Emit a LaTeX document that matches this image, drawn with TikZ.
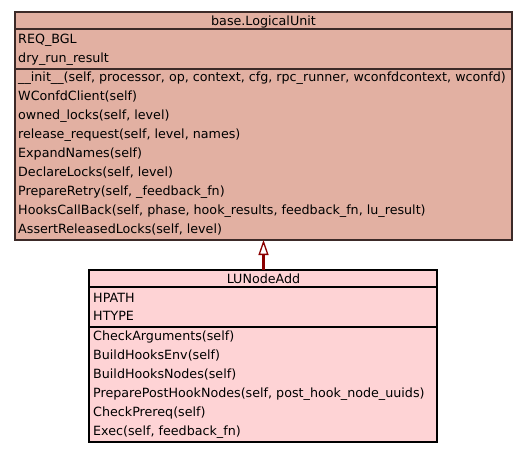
\documentclass[tikz,border=0pt]{standalone}
\usepackage{fontspec}
\setmainfont{DejaVu Sans}
\usetikzlibrary{arrows.meta}
\definecolor{topfill}{RGB}{226,176,162}
\definecolor{topdraw}{RGB}{60,42,40}
\definecolor{botfill}{RGB}{254,211,213}
\definecolor{arrowred}{RGB}{139,0,0}
\tikzset{
  rowtext/.style={anchor=base west, inner sep=0pt, font=\fontsize{12.7}{14}\selectfont},
  titletext/.style={anchor=base, inner sep=0pt, font=\fontsize{12.7}{14}\selectfont},
  topbox/.style={fill=topfill, draw=topdraw, line width=1.6pt},
  botbox/.style={fill=botfill, draw=black, line width=1.3pt},
  topsep/.style={draw=topdraw, line width=1.2pt},
  botsep/.style={draw=black, line width=1.2pt},
  inherit/.style={draw=arrowred, line width=2.2pt, -{Triangle[open, length=15pt, width=10pt, line width=1.3pt]}}
}
\begin{document}
\begin{tikzpicture}[x=1pt,y=-1pt]
\useasboundingbox[fill=white] (0,0) rectangle (528,453);
% top class
\path[topbox] (15,12) rectangle (512,240);
\draw[topsep] (15,29) -- (512,29);
\draw[topsep] (15,69) -- (512,69);
\coordinate (lubottom) at (263.5,240);
\node[titletext] (lut) at (263.5,25) {base.LogicalUnit};
\node[rowtext] (lua1) at (18,43) {REQ\_BGL};
\node[rowtext] (lua2) at (18,62) {dry\_run\_result};
\node[rowtext] (lum1) at (18,81.5) {\_\_init\_\_(self, processor, op, context, cfg, rpc\_runner, wconfdcontext, wconfd)};
\node[rowtext] (lum2) at (18,100.5) {WConfdClient(self)};
\node[rowtext] (lum3) at (18,119.5) {owned\_locks(self, level)};
\node[rowtext] (lum4) at (18,138.5) {release\_request(self, level, names)};
\node[rowtext] (lum5) at (18,157.5) {ExpandNames(self)};
\node[rowtext] (lum6) at (18,176.5) {DeclareLocks(self, level)};
\node[rowtext] (lum7) at (18,195.5) {PrepareRetry(self, \_feedback\_fn)};
\node[rowtext] (lum8) at (18,214.5) {HooksCallBack(self, phase, hook\_results, feedback\_fn, lu\_result)};
\node[rowtext] (lum9) at (18,233.5) {AssertReleasedLocks(self, level)};
% bottom class
\path[botbox] (89,270) rectangle (437,442);
\draw[botsep] (89,287) -- (437,287);
\draw[botsep] (89,327) -- (437,327);
\coordinate (natop) at (263.5,270);
\node[titletext] (nat) at (263.5,283) {LUNodeAdd};
\node[rowtext] (naa1) at (93,302) {HPATH};
\node[rowtext] (naa2) at (93,320.5) {HTYPE};
\node[rowtext] (nam1) at (93,340.5) {CheckArguments(self)};
\node[rowtext] (nam2) at (93,359.5) {BuildHooksEnv(self)};
\node[rowtext] (nam3) at (93,378.5) {BuildHooksNodes(self)};
\node[rowtext] (nam4) at (93,397.5) {PreparePostHookNodes(self, post\_hook\_node\_uuids)};
\node[rowtext] (nam5) at (93,416.5) {CheckPrereq(self)};
\node[rowtext] (nam6) at (93,435.5) {Exec(self, feedback\_fn)};
\draw[inherit] (natop) -- (lubottom);
\end{tikzpicture}
\end{document}
